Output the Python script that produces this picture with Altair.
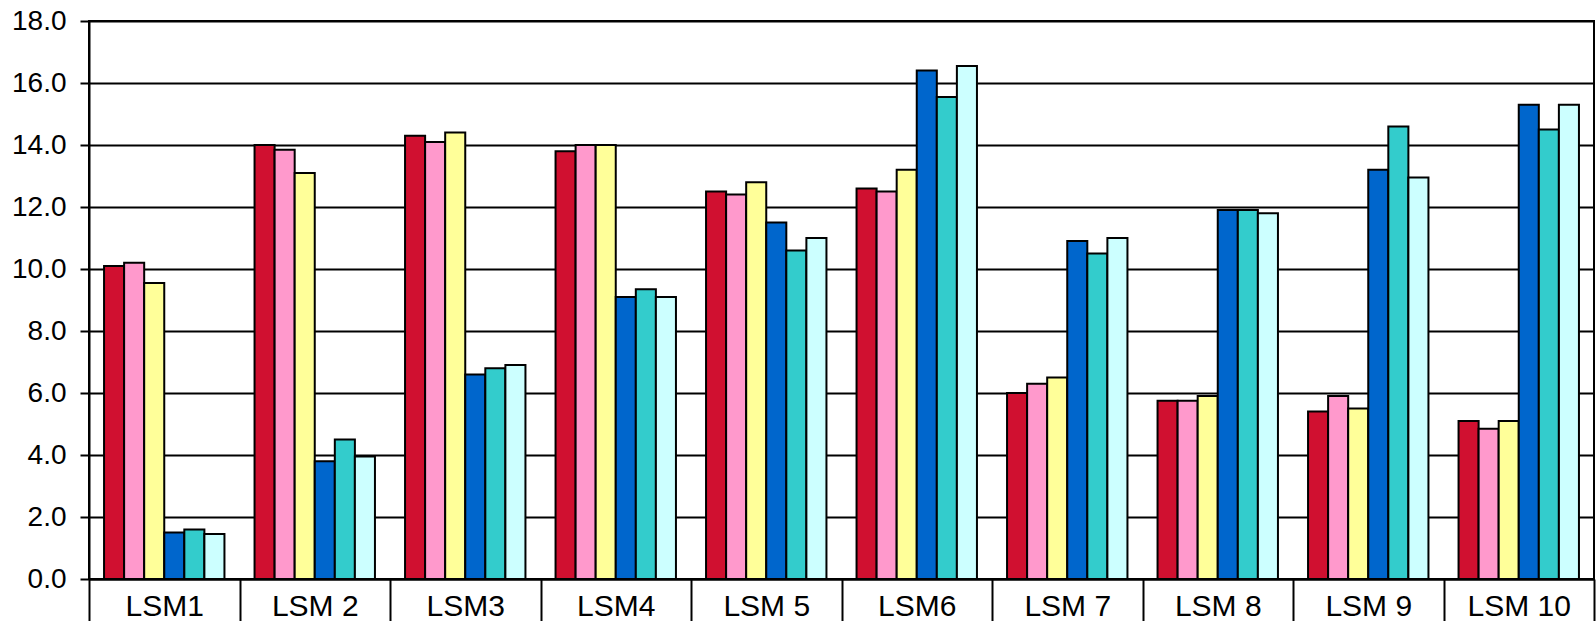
import altair as alt
import pandas as pd

# Categories along the x axis and the six series drawn in each group
categories = ["LSM1", "LSM 2", "LSM3", "LSM4", "LSM 5", "LSM6", "LSM 7", "LSM 8", "LSM 9", "LSM 10"]
series = ["S1", "S2", "S3", "S4", "S5", "S6"]
colors = ["#D01030", "#FF99CC", "#FFFF99", "#0066CC", "#33CCCC", "#CCFFFF"]

s1 = [10.1, 14.0, 14.3, 13.8, 12.5, 12.6, 6.0, 5.75, 5.4, 5.1]
s2 = [10.2, 13.85, 14.1, 14.0, 12.4, 12.5, 6.3, 5.75, 5.9, 4.85]
s3 = [9.55, 13.1, 14.4, 14.0, 12.8, 13.2, 6.5, 5.9, 5.5, 5.1]
s4 = [1.5, 3.8, 6.6, 9.1, 11.5, 16.4, 10.9, 11.9, 13.2, 15.3]
s5 = [1.6, 4.5, 6.8, 9.35, 10.6, 15.55, 10.5, 11.9, 14.6, 14.5]
s6 = [1.45, 3.95, 6.9, 9.1, 11.0, 16.55, 11.0, 11.8, 12.95, 15.3]

y_ticks = [0, 2, 4, 6, 8, 10, 12, 14, 16, 18]

rows = []
for name, vals in zip(series, [s1, s2, s3, s4, s5, s6]):
    for cat, v in zip(categories, vals):
        rows.append({"category": cat, "series": name, "value": v})
df = pd.DataFrame(rows)

FONT = "Liberation Sans"

chart = alt.Chart(df).mark_bar(stroke="black", strokeWidth=2).encode(
    x=alt.X(
        "category:N",
        sort=categories,
        scale=alt.Scale(paddingInner=0, paddingOuter=0),
        axis=alt.Axis(
            title=None,
            labelAngle=0,
            tickBand="extent",
            tickSize=50,
            tickColor="black",
            tickWidth=2,
            labelPadding=-38,
            labelFont=FONT,
            labelFontSize=30,
            labelColor="black",
            domainColor="black",
            domainWidth=2,
            grid=False,
        ),
    ),
    xOffset=alt.XOffset(
        "series:N", sort=series, scale=alt.Scale(paddingInner=0, paddingOuter=0.75)
    ),
    y=alt.Y(
        "value:Q",
        scale=alt.Scale(domain=[0, 18], nice=False),
        axis=alt.Axis(
            title=None,
            values=y_ticks,
            format=".1f",
            grid=True,
            gridColor="black",
            gridWidth=2,
            tickSize=9,
            tickColor="black",
            tickWidth=2,
            labelPadding=14,
            labelFont=FONT,
            labelFontSize=28,
            labelColor="black",
            domainColor="black",
            domainWidth=2,
        ),
    ),
    color=alt.Color("series:N", scale=alt.Scale(domain=series, range=colors), legend=None),
).properties(
    width=1505,
    height=558,
    autosize=alt.AutoSizeParams(type="none"),
    padding={"left": 89, "top": 21, "right": 2, "bottom": 42},
).configure_view(stroke="black", strokeWidth=2)

chart.save("out.html", embed_options={"renderer": "svg", "actions": False})
